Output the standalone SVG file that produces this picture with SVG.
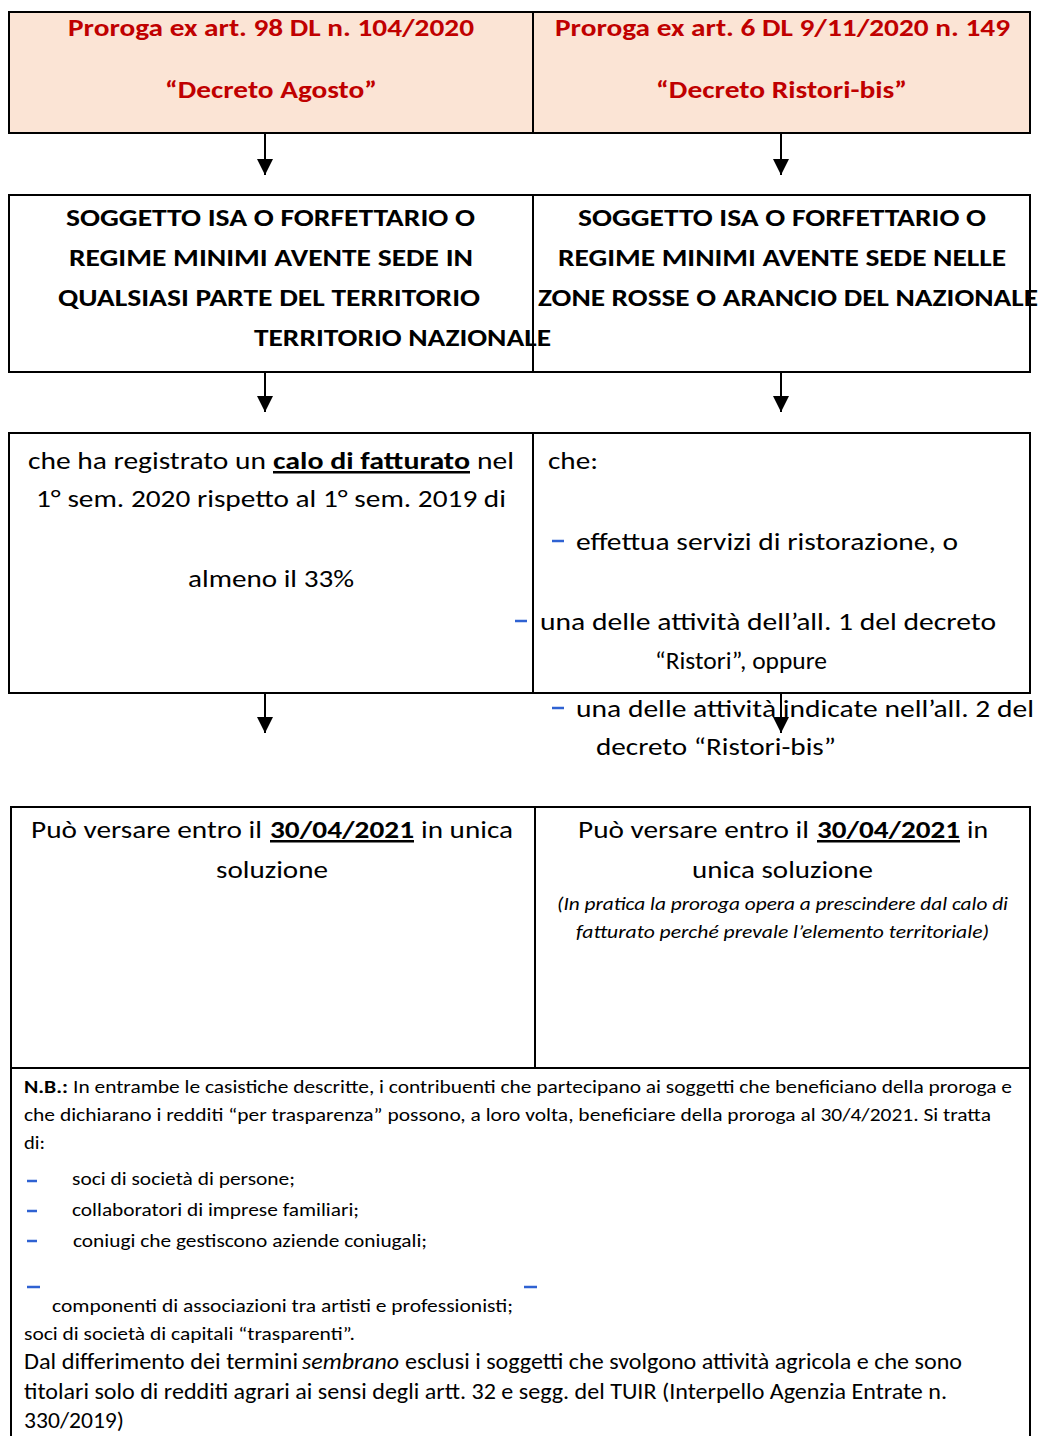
<svg xmlns="http://www.w3.org/2000/svg" width="1040" height="1436" viewBox="0 0 1040 1436">
<defs>
<marker id="ah" markerUnits="userSpaceOnUse" markerWidth="16" markerHeight="16" refX="14" refY="7" orient="auto" viewBox="0 0 14 14">
<path d="M0,0 L14,7 L0,14 z" fill="#000"/>
</marker>
<style>
text{font-family:Carlito,Lato,"Liberation Sans",sans-serif;fill:#000}
.hd{font-weight:bold;font-size:25px;fill:#C00000}
.bx{fill:#fff;stroke:#000;stroke-width:2}
.pk{fill:#FBE4D5;stroke:#000;stroke-width:2}
.cap{font-weight:bold;font-size:25px}
.rg{font-size:25px}
.b{font-weight:bold}
.u{text-decoration:underline}
.it{font-style:italic;font-size:18.5px}
.nb{font-size:19px}
.nb2{font-size:22px}
.dash{stroke:#2F62D2;stroke-width:2.5}
.arr{stroke:#000;stroke-width:2;fill:none;marker-end:url(#ah)}
</style>
</defs>
<rect width="1040" height="1436" fill="#fff"/>

<g id="header-left">
<rect class="pk" x="9" y="12" width="524" height="121"/>
<text class="hd" x="68" y="36" textLength="406" lengthAdjust="spacingAndGlyphs">Proroga ex art. 98 DL n. 104/2020</text>
<text class="hd" x="165" y="98" textLength="212" lengthAdjust="spacingAndGlyphs">“Decreto Agosto”</text>
</g>
<g id="header-right">
<rect class="pk" x="533" y="12" width="497" height="121"/>
<text class="hd" x="555" y="36" textLength="455" lengthAdjust="spacingAndGlyphs">Proroga ex art. 6 DL 9/11/2020 n. 149</text>
<text class="hd" x="656" y="98" textLength="251" lengthAdjust="spacingAndGlyphs">“Decreto Ristori-bis”</text>
</g>

<g id="soggetto-left">
<rect class="bx" x="9" y="195" width="524" height="177"/>
<text class="cap" x="66" y="226" textLength="409" lengthAdjust="spacingAndGlyphs">SOGGETTO ISA O FORFETTARIO O</text>
<text class="cap" x="69" y="266" textLength="404" lengthAdjust="spacingAndGlyphs">REGIME MINIMI AVENTE SEDE IN</text>
<text class="cap" x="58" y="306" textLength="422" lengthAdjust="spacingAndGlyphs">QUALSIASI PARTE DEL TERRITORIO</text>
</g>
<g id="soggetto-right">
<rect class="bx" x="533" y="195" width="497" height="177"/>
<text class="cap" x="578" y="226" textLength="408" lengthAdjust="spacingAndGlyphs">SOGGETTO ISA O FORFETTARIO O</text>
<text class="cap" x="558" y="266" textLength="448" lengthAdjust="spacingAndGlyphs">REGIME MINIMI AVENTE SEDE NELLE</text>
<text class="cap" x="538" y="306" textLength="500" lengthAdjust="spacingAndGlyphs">ZONE ROSSE O ARANCIO DEL NAZIONALE</text>
</g>
<text class="cap" x="254" y="346" textLength="297" lengthAdjust="spacingAndGlyphs">TERRITORIO NAZIONALE</text>

<g id="calo-left">
<rect class="bx" x="9" y="433" width="524" height="260"/>
<text class="rg" x="28" y="469" textLength="238" lengthAdjust="spacingAndGlyphs">che ha registrato un</text>
<text class="rg b u" x="273" y="469" textLength="197" lengthAdjust="spacingAndGlyphs">calo di fatturato</text>
<text class="rg" x="477" y="469" textLength="37" lengthAdjust="spacingAndGlyphs">nel</text>
<text class="rg" x="36" y="507" textLength="470" lengthAdjust="spacingAndGlyphs">1° sem. 2020 rispetto al 1° sem. 2019 di</text>
<text class="rg" x="188" y="587" textLength="166" lengthAdjust="spacingAndGlyphs">almeno il 33%</text>
</g>
<g id="attivita-right">
<rect class="bx" x="533" y="433" width="497" height="260"/>
<text class="rg" x="548" y="469" textLength="50" lengthAdjust="spacingAndGlyphs">che:</text>
<line class="dash" x1="552" y1="541" x2="564" y2="541"/>
<text class="rg" x="576" y="550" textLength="382" lengthAdjust="spacingAndGlyphs">effettua servizi di ristorazione, o</text>
<line class="dash" x1="515" y1="621" x2="527" y2="621"/>
<text class="rg" x="540" y="630" textLength="456" lengthAdjust="spacingAndGlyphs">una delle attività dell’all. 1 del decreto</text>
<text class="rg" x="655" y="669" textLength="172" lengthAdjust="spacingAndGlyphs">“Ristori”, oppure</text>
</g>

<g id="connectors">
<line class="arr" x1="265" y1="134" x2="265" y2="175"/>
<line class="arr" x1="781" y1="134" x2="781" y2="175"/>
<line class="arr" x1="265" y1="373" x2="265" y2="412"/>
<line class="arr" x1="781" y1="373" x2="781" y2="412"/>
<line class="arr" x1="265" y1="694" x2="265" y2="733"/>
<line class="arr" x1="781" y1="694" x2="781" y2="733"/>
</g>

<g id="attivita-extra">
<line class="dash" x1="552" y1="708" x2="564" y2="708"/>
<text class="rg" x="576" y="717" textLength="458" lengthAdjust="spacingAndGlyphs">una delle attività indicate nell’all. 2 del</text>
<text class="rg" x="596" y="755" textLength="240" lengthAdjust="spacingAndGlyphs">decreto “Ristori-bis”</text>
</g>

<g id="versare-left">
<rect class="bx" x="11" y="807" width="524" height="261"/>
<text class="rg" x="31" y="838" textLength="231" lengthAdjust="spacingAndGlyphs">Può versare entro il</text>
<text class="rg b u" x="270" y="838" textLength="144" lengthAdjust="spacingAndGlyphs">30/04/2021</text>
<text class="rg" x="421" y="838" textLength="92" lengthAdjust="spacingAndGlyphs">in unica</text>
<text class="rg" x="216" y="878" textLength="112" lengthAdjust="spacingAndGlyphs">soluzione</text>
</g>
<g id="versare-right">
<rect class="bx" x="535" y="807" width="495" height="261"/>
<text class="rg" x="578" y="838" textLength="231" lengthAdjust="spacingAndGlyphs">Può versare entro il</text>
<text class="rg b u" x="817" y="838" textLength="143" lengthAdjust="spacingAndGlyphs">30/04/2021</text>
<text class="rg" x="967" y="838" textLength="21" lengthAdjust="spacingAndGlyphs">in</text>
<text class="rg" x="692" y="878" textLength="181" lengthAdjust="spacingAndGlyphs">unica soluzione</text>
<text class="it" x="557" y="910" textLength="451" lengthAdjust="spacingAndGlyphs">(In pratica la proroga opera a prescindere dal calo di</text>
<text class="it" x="576" y="938" textLength="413" lengthAdjust="spacingAndGlyphs">fatturato perché prevale l’elemento territoriale)</text>
</g>

<g id="nota-bene">
<path d="M11,1448 V1068 H1030 V1448" fill="none" stroke="#000" stroke-width="2"/>
<text class="nb b" x="24" y="1093" textLength="44" lengthAdjust="spacingAndGlyphs">N.B.:</text>
<text class="nb" x="73" y="1093" textLength="939" lengthAdjust="spacingAndGlyphs">In entrambe le casistiche descritte, i contribuenti che partecipano ai soggetti che beneficiano della proroga e</text>
<text class="nb" x="24" y="1121" textLength="967" lengthAdjust="spacingAndGlyphs">che dichiarano i redditi “per trasparenza” possono, a loro volta, beneficiare della proroga al 30/4/2021. Si tratta</text>
<text class="nb" x="24" y="1149" textLength="21" lengthAdjust="spacingAndGlyphs">di:</text>
<line class="dash" x1="27" y1="1181" x2="37" y2="1181"/>
<text class="nb" x="72" y="1185" textLength="223" lengthAdjust="spacingAndGlyphs">soci di società di persone;</text>
<line class="dash" x1="27" y1="1211" x2="37" y2="1211"/>
<text class="nb" x="72" y="1216" textLength="287" lengthAdjust="spacingAndGlyphs">collaboratori di imprese familiari;</text>
<line class="dash" x1="27" y1="1241" x2="37" y2="1241"/>
<text class="nb" x="73" y="1247" textLength="354" lengthAdjust="spacingAndGlyphs">coniugi che gestiscono aziende coniugali;</text>
<line class="dash" x1="27" y1="1287" x2="40" y2="1287"/>
<line class="dash" x1="524" y1="1287" x2="537" y2="1287"/>
<text class="nb" x="52" y="1312" textLength="461" lengthAdjust="spacingAndGlyphs">componenti di associazioni tra artisti e professionisti;</text>
<text class="nb" x="24" y="1340" textLength="331" lengthAdjust="spacingAndGlyphs">soci di società di capitali “trasparenti”.</text>
<text class="nb2" x="24" y="1369" textLength="274" lengthAdjust="spacingAndGlyphs">Dal differimento dei termini</text>
<text class="nb2" x="302" y="1369" textLength="97" lengthAdjust="spacingAndGlyphs" font-style="italic">sembrano</text>
<text class="nb2" x="405" y="1369" textLength="557" lengthAdjust="spacingAndGlyphs">esclusi i soggetti che svolgono attività agricola e che sono</text>
<text class="nb2" x="24" y="1399" textLength="923" lengthAdjust="spacingAndGlyphs">titolari solo di redditi agrari ai sensi degli artt. 32 e segg. del TUIR (Interpello Agenzia Entrate n.</text>
<text class="nb2" x="24" y="1428" textLength="100" lengthAdjust="spacingAndGlyphs">330/2019)</text>
</g>
</svg>
